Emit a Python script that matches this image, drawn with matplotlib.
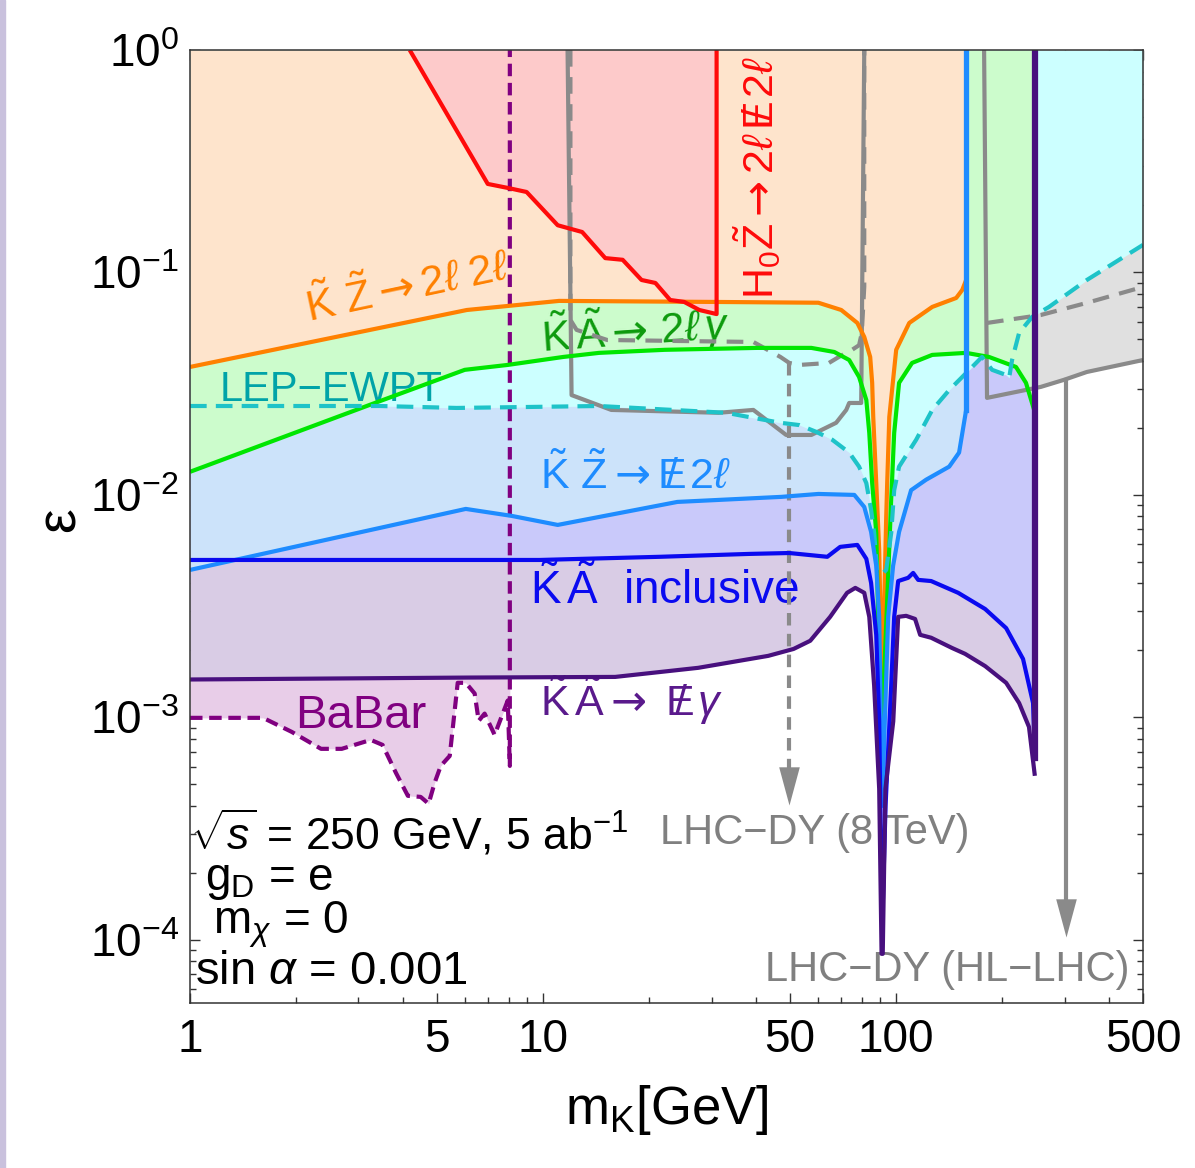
"""Dark-photon-like sensitivity plot: epsilon vs m_K at a 250 GeV e+e- collider."""

import matplotlib
matplotlib.use("Agg")  # headless
import matplotlib.pyplot as plt
from matplotlib.markers import MarkerStyle
from matplotlib.patches import Rectangle
from matplotlib.ticker import FixedLocator, LogLocator, LogFormatterSciNotation, NullFormatter

plt.rcParams["font.family"] = ["Liberation Sans", "DejaVu Sans"]
plt.rcParams["mathtext.fontset"] = "custom"
plt.rcParams["mathtext.rm"] = "Liberation Sans"
plt.rcParams["mathtext.it"] = "Liberation Sans:italic"
plt.rcParams["mathtext.bf"] = "Liberation Sans:bold"
plt.rcParams["mathtext.sf"] = "DejaVu Sans"  # only used for the arrows
plt.rcParams["mathtext.fallback"] = "cm"

# ---- curves: m_K [GeV], epsilon ----
red_m = [4.19, 6.97, 7.93, 8.98, 11.0, 12.9, 15.0, 16.8, 19.0, 20.8, 22.9, 25.1, 27.7, 31.0, 31.0]
red_eps = [1.0, 0.25, 0.24, 0.23, 0.163, 0.152, 0.116, 0.114, 0.0925, 0.0897, 0.0752, 0.0737,
           0.0678, 0.065, 1.0]

orange_m = [1.0, 6.08, 11.1, 30.6, 60.2, 69.9, 77.6, 81.2, 84.4, 85.5, 86.1, 87.8, 89.5, 91.2,
            93.7, 94.3, 95.6, 100.0, 108.9, 126.5, 147.9, 153.8, 157.8]
orange_eps = [0.0376, 0.0678, 0.0745, 0.0737, 0.0731, 0.0678, 0.0593, 0.0513, 0.0417, 0.0319,
              0.0224, 0.0113, 0.00566, 0.00125, 0.00796, 0.0113, 0.0224, 0.0449, 0.0593, 0.070,
              0.0768, 0.0834, 0.0925]

green_m = [1.0, 3.23, 6.0, 7.94, 11.4, 14.4, 22.1, 40.4, 57.5, 66.8, 73.6, 78.5, 82.3, 83.9,
           85.5, 87.8, 90.7, 96.8, 98.7, 101.9, 110.9, 126.5, 157.8, 183.2, 218.4, 233.1, 247.0]
green_eps = [0.0127, 0.0254, 0.0365, 0.0384, 0.0417, 0.0435, 0.0449, 0.0458, 0.0458, 0.0439,
             0.0404, 0.0339, 0.0267, 0.019, 0.0113, 0.00675, 0.00073, 0.0095, 0.019, 0.0319,
             0.0392, 0.0426, 0.0435, 0.0417, 0.0376, 0.0319, 0.0235]

lep_m = [1.0, 3.45, 5.69, 14.4, 33.0, 39.4, 47.0, 53.2, 59.4, 65.9, 73.6, 78.5, 82.3, 84.9,
         86.6, 88.3, 90.7, 93.7, 96.8, 98.7, 101.9, 113.9, 126.5, 141.3, 157.8, 175.0, 186.9,
         204.8, 208.9, 212.9, 222.9, 242.6, 270.9, 346.7, 500.0]
lep_eps = [0.0251, 0.0251, 0.0246, 0.0251, 0.0234, 0.0222, 0.0211, 0.0206, 0.0192, 0.0177,
           0.0155, 0.0134, 0.0113, 0.00857, 0.00675, 0.0046, 0.00437, 0.0046, 0.00675, 0.0105,
           0.0134, 0.0177, 0.0241, 0.0296, 0.0353, 0.0417, 0.0365, 0.0346, 0.0336, 0.0404,
           0.0535, 0.0631, 0.070, 0.0925, 0.133]

kz_inv_m = [1.0, 6.04, 8.14, 11.0, 24.0, 47.3, 60.2, 76.1, 81.2, 84.9, 87.8, 89.5, 91.2, 94.9,
            98.0, 101.9, 110.2, 121.5, 141.3, 150.7, 157.8]
kz_inv_eps = [0.0046, 0.00865, 0.00805, 0.00733, 0.0093, 0.0098, 0.0101, 0.0100, 0.00883,
              0.00682, 0.0048, 0.00283, 0.0004, 0.00283, 0.0048, 0.00682, 0.0105, 0.0117, 0.0134,
              0.0155, 0.0241]

incl_m = [1.0, 9.78, 21.4, 38.4, 49.8, 63.8, 69.4, 77.6, 82.3, 84.9, 87.8, 89.5, 91.0, 91.6,
          93.3, 96.8, 98.7, 101.3, 108.1, 111.7, 115.4, 125.6, 149.8, 178.6, 204.8, 228.7, 244.1,
          247.0]
incl_eps = [0.0051, 0.0051, 0.00527, 0.00543, 0.00548, 0.00527, 0.00584, 0.00596, 0.00516,
            0.00402, 0.00235, 0.00096, 0.000142, 0.000142, 0.0004, 0.00139, 0.00283, 0.0041,
            0.00424, 0.00446, 0.00415, 0.0041, 0.00363, 0.00307, 0.00252, 0.00183, 0.00116,
            0.00068]

ka_inv_m = [1.0, 6.2, 16.0, 27.5, 43.4, 51.2, 57.1, 65.0, 72.6, 76.6, 81.2, 83.9, 86.6, 89.5,
            90.9, 91.6, 93.2, 98.1, 101.3, 106.7, 113.1, 116.9, 125.6, 144.0, 156.7, 178.6,
            204.8, 222.9, 237.7, 247.0]
ka_inv_eps = [0.00148, 0.00151, 0.00152, 0.00167, 0.00189, 0.00203, 0.00221, 0.00283, 0.00363,
              0.00382, 0.00363, 0.00283, 0.00139, 0.000477, 8.65e-5, 8.65e-5, 0.000477, 0.00096,
              0.00283, 0.00286, 0.00277, 0.00235, 0.00228, 0.00205, 0.00193, 0.0017, 0.00143,
              0.00116, 0.000906, 0.000546]

babar_m = [1.0, 1.61, 1.94, 2.35, 2.69, 3.25, 3.51, 3.83, 4.14, 4.50, 4.74, 4.93, 5.13, 5.44,
           5.73, 6.04, 6.40, 6.57, 6.83, 7.29, 7.94, 8.05]
babar_eps = [0.000995, 0.000995, 0.000861, 0.000722, 0.000722, 0.000792, 0.000752, 0.000563,
             0.000444, 0.000439, 0.000409, 0.000508, 0.000605, 0.000671, 0.00143, 0.00143,
             0.00128, 0.000964, 0.00104, 0.000834, 0.00119, 0.000605]

# LHC Drell-Yan: 8 TeV (dashed) and HL-LHC (solid), each in two pieces
lhc8_left_m = [11.95, 11.95, 12.44, 15.2, 39.4, 47.0, 49.8, 53.2, 64.5, 68.8, 75.0, 78.5, 79.9,
               81.2, 81.2]
lhc8_left_eps = [1.0, 0.0612, 0.0552, 0.0497, 0.0487, 0.0417, 0.0392, 0.0384, 0.0392, 0.0417,
                 0.0449, 0.0471, 0.0535, 0.0863, 1.0]
lhc8_right_m = [180.8, 180.8, 257.0, 346.7, 500.0]
lhc8_right_eps = [1.0, 0.0593, 0.0644, 0.073, 0.0861]
hl_left_m = [11.73, 12.04, 15.6, 31.4, 39.4, 48.8, 57.5, 67.6, 72.2, 73.6, 79.6, 81.2]
hl_left_eps = [1.0, 0.0281, 0.0241, 0.0234, 0.0241, 0.0186, 0.0186, 0.0211, 0.0241, 0.0259,
               0.0259, 1.0]
hl_right_m = [177.4, 180.8, 257.0, 298.5, 346.7, 500.0]
hl_right_eps = [1.0, 0.0273, 0.0306, 0.0329, 0.0357, 0.0404]

lhc8_arrow_m = 49.8
lhc8_arrow_eps = [0.0392, 4.05e-4]
hl_arrow_m = 303.0
hl_arrow_eps = [0.0329, 1.03e-4]

x_ticks = [1, 5, 10, 50, 100, 500]
x_ticklabels = ["1", "5", "10", "50", "100", "500"]

GRAY = "#8a8a8a"
KT = r"\tilde{\mathrm{K}}"
ZT = r"\tilde{\mathrm{Z}}"
AT = r"\tilde{\mathrm{A}}"
ARR = r"\mathsf{\rightarrow}"
EMISS = r"\mathrm{E}\hspace{-0.56}/\hspace{0.32}"


def main() -> None:
    fig = plt.figure(figsize=(11.95, 11.68), dpi=100)
    fig.patches.append(Rectangle((0, 0), 5 / 1195, 1, transform=fig.transFigure,
                                 color="#c9c1dd", zorder=0))
    ax = fig.add_axes([190 / 1195, 1 - 1003 / 1168, 953 / 1195, 953 / 1168])
    ax.set_xscale("log")
    ax.set_yscale("log")

    # filled regions, lowest-curve first so higher ones sit on top
    ax.fill_between(hl_right_m[1:], hl_right_eps[1:], 1, color="#e0e0e0", lw=0, zorder=1)
    ax.fill_between(babar_m, babar_eps, 1, color="#e8cde8", lw=0, zorder=2)
    ax.fill_between(ka_inv_m, ka_inv_eps, 1, color="#d9cce5", lw=0, zorder=3)
    ax.fill_between(incl_m, incl_eps, 1, color="#c9c9fa", lw=0, zorder=4)
    ax.fill_between(kz_inv_m, kz_inv_eps, 1, color="#cce3fa", lw=0, zorder=5)
    ax.fill_between(lep_m, lep_eps, 1, color="#ccffff", lw=0, zorder=6)
    ax.fill_between(green_m, green_eps, 1, color="#ccfccc", lw=0, zorder=7)
    ax.fill_between(orange_m, orange_eps, 1, color="#fee4cc", lw=0, zorder=8)
    ax.fill_between(red_m[:-1], red_eps[:-1], 1, color="#fdcaca", lw=0, zorder=8.5)

    lkw = dict(solid_joinstyle="round", dash_joinstyle="round", solid_capstyle="butt")
    # LHC Drell-Yan lines
    ax.plot(hl_left_m, hl_left_eps, color=GRAY, lw=3, zorder=10, **lkw)
    ax.plot(hl_right_m, hl_right_eps, color=GRAY, lw=3, zorder=10, **lkw)
    ax.plot(lhc8_left_m, lhc8_left_eps, color=GRAY, lw=3, dashes=(4, 2.5), zorder=10, **lkw)
    ax.plot(lhc8_right_m[1:], lhc8_right_eps[1:], color=GRAY, lw=3, dashes=(4, 2.5),
            zorder=10, **lkw)

    head = MarkerStyle([(-0.27, 1.0), (0.27, 1.0), (0.0, 0.0)])
    ax.plot([lhc8_arrow_m] * 2, [lhc8_arrow_eps[0], lhc8_arrow_eps[1] * 1.4], color=GRAY,
            lw=3, dashes=(3, 2), zorder=10)
    ax.plot([lhc8_arrow_m], [lhc8_arrow_eps[1]], marker=head, ms=55, color=GRAY, mew=0,
            zorder=10)
    ax.plot([hl_arrow_m] * 2, [hl_arrow_eps[0], hl_arrow_eps[1] * 1.4], color=GRAY, lw=3,
            zorder=10)
    ax.plot([hl_arrow_m], [hl_arrow_eps[1]], marker=head, ms=55, color=GRAY, mew=0, zorder=10)

    # BaBar (dashed, closes with a vertical edge)
    ax.plot(babar_m + [babar_m[-1]], babar_eps + [1.0], color="#800080", lw=3,
            dashes=(3, 1.6), zorder=11, **lkw)

    # collider curves
    ax.plot(orange_m, orange_eps, color="#ff8000", lw=3, zorder=12, **lkw)
    ax.plot(green_m, green_eps, color="#00e600", lw=3, zorder=12, **lkw)
    ax.plot(lep_m, lep_eps, color="#1ec3c8", lw=3, dashes=(4, 2.2), zorder=13, **lkw)
    ax.plot(kz_inv_m, kz_inv_eps, color="#1e8cff", lw=3, zorder=14, **lkw)
    ax.plot([kz_inv_m[-1]] * 2, [kz_inv_eps[-1], 1.0], color="#1e8cff", lw=3.8, zorder=14)
    ax.plot(incl_m, incl_eps, color="#0a0af0", lw=3, zorder=15, **lkw)
    ax.plot(ka_inv_m, ka_inv_eps, color="#48107e", lw=3, zorder=16, **lkw)
    ax.plot([ka_inv_m[-1]] * 2, [ka_inv_eps[-1] * 1.2, 1.0], color="#48107e", lw=4.5,
            zorder=16)
    ax.plot(red_m, red_eps, color="#ff0a0a", lw=3, zorder=17, **lkw)

    # labels inside the frame (axes-fraction positions)
    tk = dict(transform=ax.transAxes, zorder=9)
    ax.text(0.229, 0.751, rf"${KT}\ {ZT}{ARR}2\ell\ 2\ell$", fontsize=31,
            color="#ff8000", ha="center", va="center", rotation=12, **tk)
    ax.text(0.366, 0.706, rf"${KT}\,{AT}{ARR}\,2\ell\,\gamma$", fontsize=31,
            color="#0d9a0d", ha="left", va="center", rotation=4, **tk)
    ax.text(0.031, 0.643, "LEP\u2212EWPT", fontsize=30, color="#00a3a8", ha="left",
            va="center", **tk)
    ax.text(0.367, 0.554, rf"${KT}\ {ZT}{ARR}{EMISS}2\ell$", fontsize=31,
            color="#1e8cff", ha="left", va="center", **tk)
    ax.text(0.357, 0.433, rf"${KT}\,{AT}$  inclusive", fontsize=33,
            color="#0a0af0", ha="left", va="center", **tk)
    ax.text(0.367, 0.318, rf"${KT}\,{AT}{ARR}\ {EMISS}\gamma$", fontsize=31,
            color="#5a1a8c", ha="left", va="center", **tk)
    ax.text(0.110, 0.301, "BaBar", fontsize=34, color="#800080", ha="left", va="center", **tk)
    ax.text(0.595, 0.866, rf"$\mathrm{{H_0}}{ZT}{ARR}2\ell\,{EMISS}2\ell$", fontsize=31,
            color="#ff0a0a", ha="center", va="center", rotation=90, **tk)

    ax.text(0.0, 0.178, r"$\sqrt{s}$ = 250 GeV, 5 ab$^{-1}$", fontsize=32, ha="left",
            va="center", **tk)
    ax.text(0.016, 0.129, r"g$_\mathrm{D}$ = e", fontsize=33, ha="left", va="center", **tk)
    ax.text(0.024, 0.082, r"m$_\chi$ = 0", fontsize=33, ha="left", va="center", **tk)
    ax.text(0.005, 0.0325, r"sin $\alpha$ = 0.001", fontsize=34, ha="left", va="center", **tk)
    ax.text(0.493, 0.178, "LHC\u2212DY (8 TeV)", fontsize=30, color="#808080", ha="left",
            va="center", **tk)
    ax.text(0.603, 0.035, "LHC\u2212DY (HL\u2212LHC)", fontsize=30, color="#808080",
            ha="left", va="center", **tk)

    # axes, ticks
    ax.set_xlim(1, 500)
    ax.set_ylim(5.2e-5, 1)
    ax.xaxis.set_major_locator(FixedLocator(x_ticks))
    ax.set_xticklabels(x_ticklabels)
    ax.xaxis.set_minor_locator(LogLocator(base=10, subs=range(2, 10), numticks=20))
    ax.xaxis.set_minor_formatter(NullFormatter())
    ax.yaxis.set_major_locator(LogLocator(base=10, numticks=10))
    ax.yaxis.set_major_formatter(LogFormatterSciNotation())
    ax.yaxis.set_minor_locator(LogLocator(base=10, subs=range(2, 10), numticks=20))
    ax.yaxis.set_minor_formatter(NullFormatter())
    ax.tick_params(which="both", direction="in", top=True, right=True, width=1,
                   color="#333333")
    ax.tick_params(which="major", length=7.5, labelsize=33)
    ax.tick_params(which="minor", length=4)
    ax.tick_params(axis="x", pad=11)
    ax.tick_params(axis="y", pad=8)
    for s in ax.spines.values():
        s.set_linewidth(1.1)
        s.set_color("#333333")
        s.set_zorder(20)

    ax.set_xlabel(r"m$_\mathrm{K}$[GeV]", fontsize=38)
    ax.xaxis.label.set_va("center")
    ax.xaxis.set_label_coords(0.5, -0.112)
    ax.set_ylabel("\u03b5", fontsize=40, rotation=90)
    ax.yaxis.label.set_va("center")
    ax.yaxis.set_label_coords(-0.136, 0.507)

    fig.savefig("out.png", dpi=100, facecolor="white")


if __name__ == "__main__":
    main()
